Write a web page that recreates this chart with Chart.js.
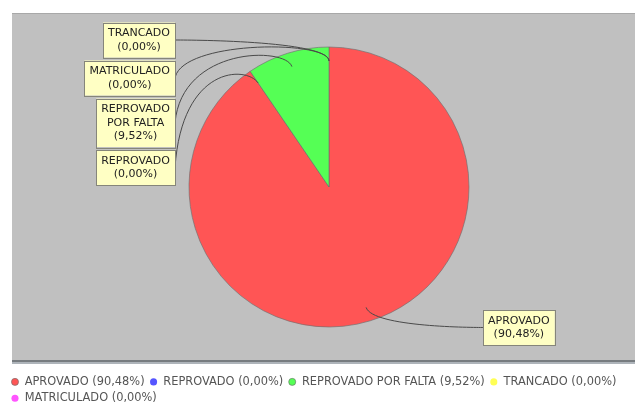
<!DOCTYPE html>
<html><head><meta charset="utf-8">
<script src="https://cdn.jsdelivr.net/npm/chart.js@4"></script>
<style>html,body{margin:0;padding:0;background:#fff}</style>
</head><body>
<canvas id="c" width="635" height="408"></canvas>
<script>
// ---- data ----
const categories = ['APROVADO', 'REPROVADO', 'REPROVADO POR FALTA', 'TRANCADO', 'MATRICULADO'];
const percentages = [90.48, 0, 9.52, 0, 0];

// ---- styles ----
const sliceColors = ['#FF5555', '#5555FF', '#55FF55', '#FFFF55', '#FF55FF'];
const FONT = '"DejaVu Sans", sans-serif';
const FRAME = {l: 12, t: 14, r: 635, b: 360};
const PIE_INSET_LEFT = 11;

const fmt = v => v.toFixed(2).replace('.', ',') + '%';
const legendLabels = categories.map((c, i) => c + ' (' + fmt(percentages[i]) + ')');

const framePlugin = {
  id: 'frame',
  afterLayout(chart) {
    const a = chart.chartArea;
    a.left = FRAME.l + PIE_INSET_LEFT; a.top = FRAME.t; a.right = FRAME.r; a.bottom = FRAME.b;
    a.width = a.right - a.left; a.height = a.bottom - a.top;
  },
  beforeDraw(chart) {
    const ctx = chart.ctx;
    ctx.save();
    ctx.fillStyle = '#fff';
    ctx.fillRect(0, 0, chart.width, chart.height);
    ctx.fillStyle = '#C0C0C0';
    ctx.fillRect(FRAME.l, FRAME.t, FRAME.r - FRAME.l, FRAME.b - FRAME.t);
    ctx.fillStyle = '#A8A8A8';
    ctx.fillRect(FRAME.l, FRAME.t - 1, FRAME.r - FRAME.l, 1);
    ctx.fillStyle = '#777C80';
    ctx.fillRect(FRAME.l, FRAME.b, FRAME.r - FRAME.l, 2);
    ctx.fillStyle = '#AEB4BA';
    ctx.fillRect(FRAME.l, FRAME.b + 2, FRAME.r - FRAME.l, 2);
    ctx.restore();
  }
};

function wrapText(ctx, text, maxW) {
  const words = text.split(' ');
  const lines = [];
  let cur = '';
  words.forEach(w => {
    const t = cur ? cur + ' ' + w : w;
    if (cur && ctx.measureText(t).width > maxW) { lines.push(cur); cur = w; }
    else cur = t;
  });
  if (cur) lines.push(cur);
  return lines;
}

const pieLabels = {
  id: 'pieLabels',
  afterDatasetsDraw(chart) {
    const ctx = chart.ctx;
    const meta = chart.getDatasetMeta(0);
    ctx.save();
    ctx.font = '11px ' + FONT;
    const LH = 13.5, PX = 5, PY = 4, WRAP = 90, GAP = 3, LABEL_GAP = 7;
    const items = meta.data.map((arc, i) => {
      const p = arc.getProps(['x', 'y', 'startAngle', 'endAngle', 'outerRadius'], true);
      const mid = (p.startAngle + p.endAngle) / 2;
      const R = p.outerRadius, Re = R * 1.05, Rl = R * 0.9;
      const lines = wrapText(ctx, categories[i], WRAP).concat(['(' + fmt(percentages[i]) + ')']);
      const w = Math.max(...lines.map(l => ctx.measureText(l).width)) + 2 * PX;
      const h = lines.length * LH + 2 * PY;
      const left = Math.cos(mid) < 1e-6;
      return {
        i, lines, w, h, left,
        anchorX: left ? p.x - Re : p.x + Re,
        tx: left ? p.x - Re - LABEL_GAP : p.x + Re + LABEL_GAP,
        ex: p.x + Math.cos(mid) * Re, ey: p.y + Math.sin(mid) * Re,
        lx: p.x + Math.cos(mid) * Rl, ly: p.y + Math.sin(mid) * Rl
      };
    });
    [true, false].forEach(side => {
      const list = items.filter(it => it.left === side).sort((a, b) => a.ey - b.ey || a.i - b.i);
      let prevBottom = -Infinity;
      list.forEach(it => {
        it.top = Math.max(it.ey - it.h / 2, prevBottom + GAP);
        prevBottom = it.top + it.h;
      });
    });
    // leader lines
    ctx.strokeStyle = '#4A4A4A';
    ctx.lineWidth = 1;
    items.forEach(it => {
      const cy = it.top + it.h / 2;
      ctx.beginPath();
      ctx.moveTo(it.tx, cy);
      ctx.bezierCurveTo(it.anchorX, it.ey, it.ex, it.ey, it.lx, it.ly);
      ctx.stroke();
    });
    // boxes
    items.forEach(it => {
      const x = it.left ? it.tx - it.w : it.tx;
      ctx.fillStyle = '#FFFFC4';
      ctx.fillRect(x, it.top, it.w, it.h);
      ctx.strokeStyle = '#85857A';
      ctx.strokeRect(Math.round(x) + 0.5, Math.round(it.top) + 0.5, Math.round(it.w), Math.round(it.h));
      ctx.fillStyle = '#222';
      ctx.textAlign = 'center';
      ctx.textBaseline = 'middle';
      it.lines.forEach((l, k) => {
        ctx.fillText(l, x + it.w / 2, it.top + PY + LH * (k + 0.5));
      });
    });
    ctx.restore();
  }
};

new Chart(document.getElementById('c'), {
  type: 'pie',
  data: {
    labels: legendLabels,
    datasets: [{
      data: percentages,
      backgroundColor: sliceColors,
      borderColor: 'rgba(110,110,110,0.8)',
      borderWidth: percentages.map(v => v > 0 ? 0.8 : 0),
      radius: 140
    }]
  },
  options: {
    responsive: false,
    animation: false,
    layout: {padding: {left: 6, right: 0, top: 0, bottom: -6}},
    plugins: {
      tooltip: {enabled: false},
      legend: {
        position: 'bottom',
        align: 'start',
        labels: {
          usePointStyle: true,
          pointStyle: 'circle',
          boxWidth: 8,
          boxHeight: 5,
          padding: 5,
          color: '#555',
          font: {family: FONT, size: 11.4}
        }
      }
    }
  },
  plugins: [framePlugin, pieLabels]
});
</script>
</body></html>
